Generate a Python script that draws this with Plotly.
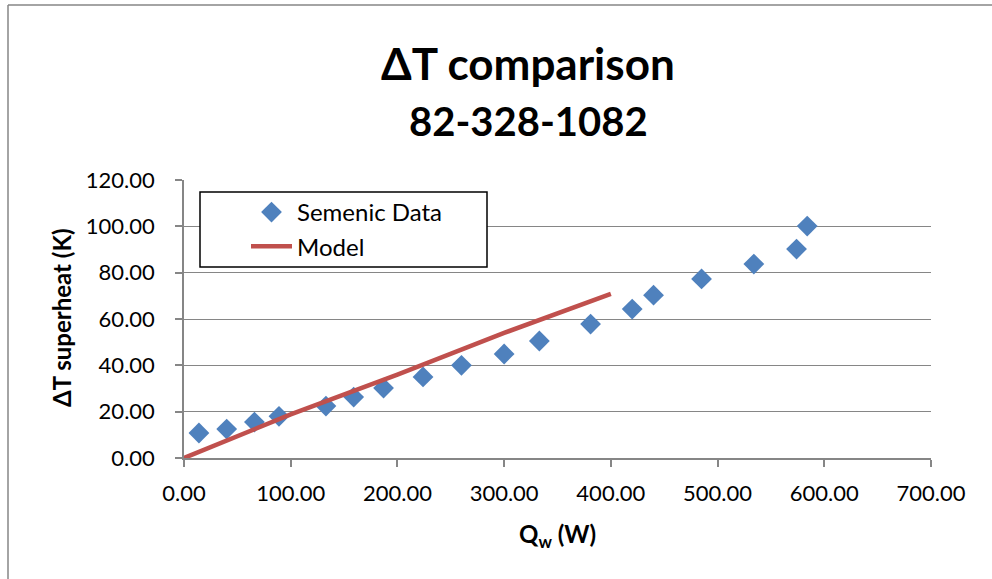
import plotly.graph_objects as go

# Data
q_data = [14, 40, 66, 89, 133, 159, 187, 224, 260, 300, 333, 381, 420, 440, 485, 534, 574, 584]
dt_data = [10.8, 12.5, 15.5, 18.0, 22.4, 26.3, 30.2, 35.0, 40.0, 44.9, 50.5, 57.8, 64.3, 70.3, 77.3, 83.7, 90.2, 100.1]

q_model = [0, 100, 200, 300, 400]
dt_model = [0, 18.8, 36.0, 54.0, 70.8]

x_ticks = [0, 100, 200, 300, 400, 500, 600, 700]
y_ticks = [0, 20, 40, 60, 80, 100, 120]

title_lines = ["ΔT comparison", "82-328-1082"]

FONT = "Lato"
L, R, T, B = 184, 61, 180, 121
W, H = 992, 579
PW, PH = W - L - R, H - T - B

def px_x(p):
    return (p - L) / PW

def px_y(p):
    return (H - B - p) / PH

fig = go.Figure()
fig.add_trace(go.Scatter(
    x=q_data, y=dt_data, mode="markers", name="Semenic Data",
    marker=dict(symbol="diamond", size=16, color="#4F81BD",
                line=dict(width=0)),
))
fig.add_trace(go.Scatter(
    x=q_model, y=dt_model, mode="lines", name="Model",
    line=dict(color="#C0504D", width=4.5),
))

fig.update_layout(
    width=W, height=H,
    margin=dict(l=L, r=R, t=T, b=B),
    paper_bgcolor="white", plot_bgcolor="white",
    font=dict(family=FONT, size=22, color="black"),
    showlegend=True,
    legend=dict(
        x=px_x(246), y=px_y(190), xanchor="left", yanchor="top",
        bgcolor="rgba(0,0,0,0)", borderwidth=0,
        font=dict(family=FONT, size=24, color="black"),
        itemwidth=41,
    ),
    xaxis=dict(
        range=[0, 700], tickvals=x_ticks, tickformat=".2f",
        showgrid=False, zeroline=False,
        showline=True, linecolor="#868686", linewidth=1.5,
        ticks="outside", ticklen=7, tickcolor="#868686", tickwidth=1.5,
        tickfont=dict(family=FONT, size=22, color="black"),
        ticklabelstandoff=8,
        fixedrange=True,
    ),
    yaxis=dict(
        range=[0, 120], tickvals=y_ticks, tickformat=".2f",
        showgrid=True, gridcolor="#868686", gridwidth=1.2,
        zeroline=False,
        showline=True, linecolor="#868686", linewidth=1.5,
        ticks="outside", ticklen=7, tickcolor="#868686", tickwidth=1.5,
        tickfont=dict(family=FONT, size=22, color="black"),
        ticklabelstandoff=16,
        fixedrange=True,
    ),
    annotations=[
        dict(text="<b>%s</b>" % title_lines[0], xref="paper", yref="paper",
             x=px_x(528), y=px_y(63), xanchor="center", yanchor="middle",
             showarrow=False, font=dict(family=FONT, size=44, color="black")),
        dict(text="<b>%s</b>" % title_lines[1], xref="paper", yref="paper",
             x=px_x(528), y=px_y(121), xanchor="center", yanchor="middle",
             showarrow=False, font=dict(family=FONT, size=40, color="black")),
        dict(text="<b>Q<sub>w</sub> (W)</b>", xref="paper", yref="paper",
             x=px_x(557), y=px_y(535), xanchor="center", yanchor="middle",
             showarrow=False, font=dict(family=FONT, size=24, color="black")),
        dict(text="<b>ΔT superheat (K)</b>", xref="paper", yref="paper",
             x=px_x(61), y=px_y(318), xanchor="center", yanchor="middle",
             textangle=-90, showarrow=False,
             font=dict(family=FONT, size=24, color="black")),
    ],
    shapes=[
        dict(type="line", xref="paper", yref="paper",
             x0=px_x(8), x1=px_x(8), y0=px_y(5), y1=px_y(600),
             line=dict(color="#868686", width=1.5)),
        dict(type="line", xref="paper", yref="paper",
             x0=px_x(8), x1=px_x(1000), y0=px_y(5), y1=px_y(5),
             line=dict(color="#868686", width=1.5)),
        dict(type="rect", xref="paper", yref="paper", layer="above",
             x0=px_x(200), x1=px_x(487), y0=px_y(267), y1=px_y(192),
             fillcolor="white", line=dict(color="black", width=1.5)),
    ],
)

fig.write_html("out.html")
